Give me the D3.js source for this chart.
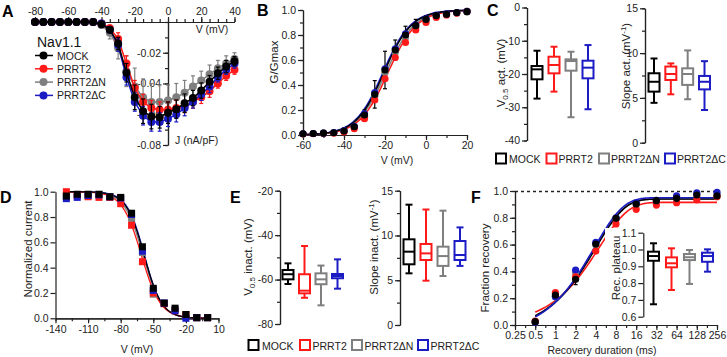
<!DOCTYPE html>
<html>
<head>
<meta charset="utf-8">
<script src="https://cdn.jsdelivr.net/npm/d3@7"></script>
<style>
  body { margin: 0; background: #fff; }
  svg { font-family: "Liberation Sans", Arial, sans-serif; }
  .axis path, .axis line { stroke: #222; stroke-width: 1.2; }
  .axis text { font-size: 10.5px; fill: #222; }
  .ttl { font-size: 10.5px; fill: #222; }
  .vttl { font-size: 11.5px; fill: #222; }
  .letter { font-size: 16px; font-weight: bold; fill: #000; }
</style>
</head>
<body>
<svg id="fig" width="727" height="357"></svg>
<script>
// groups and colours
const groups = ["MOCK", "PRRT2", "PRRT2ΔN", "PRRT2ΔC"];
const colors = ["#000000", "#ff1a1a", "#7f7f7f", "#1c1cc4"];
const drawOrder = [2, 1, 3, 0];

// A: current density vs voltage
const vA = [-80,-75,-70,-65,-60,-55,-50,-45,-40,-35,-30,-25,-20,-15,-10,-5,0,5,10,15,20,25,30,35,40];
const jMock = [0,0,0,0,0,0,0,0,-0.0015,-0.005,-0.014,-0.033,-0.049,-0.058,-0.0615,-0.062,-0.059,-0.0567,-0.0528,-0.0495,-0.0446,-0.0388,-0.0333,-0.029,-0.0255];
const jPrrt2 = [0,0,0,0,0,0,0,0,-0.001,-0.004,-0.011,-0.027,-0.043,-0.052,-0.056,-0.057,-0.057,-0.056,-0.055,-0.052,-0.049,-0.045,-0.040,-0.035,-0.031];
const jDN = [0,0,0,0,0,0,0,0,-0.002,-0.007,-0.017,-0.032,-0.042,-0.049,-0.052,-0.052,-0.051,-0.049,-0.046,-0.042,-0.038,-0.034,-0.030,-0.027,-0.024];
const jDC = [0,0,0,0,0,0,0,0,-0.001,-0.005,-0.015,-0.036,-0.052,-0.061,-0.065,-0.065,-0.063,-0.060,-0.056,-0.052,-0.047,-0.042,-0.036,-0.031,-0.027];
const jMockErr = [0,0,0,0,0,0,0,0,0.001,0.002,0.004,0.006,0.008,0.008,0.008,0.007,0.007,0.006,0.006,0.005,0.005,0.004,0.004,0.004,0.003];
const jPrrt2Err = [0,0,0,0,0,0,0,0,0.001,0.002,0.004,0.005,0.005,0.005,0.005,0.005,0.005,0.005,0.004,0.004,0.004,0.004,0.003,0.003,0.003];
const jDNErr = [0,0,0,0,0,0,0,0,0.002,0.004,0.007,0.010,0.012,0.012,0.012,0.011,0.010,0.009,0.008,0.007,0.006,0.006,0.005,0.005,0.004];
const jDCErr = [0,0,0,0,0,0,0,0,0.001,0.002,0.004,0.005,0.006,0.006,0.006,0.006,0.005,0.005,0.005,0.004,0.004,0.004,0.003,0.003,0.003];

// B: activation
const vB = [-60,-55,-50,-45,-40,-35,-30,-25,-20,-15,-10,-5,0,5,10,15,20];
const gMock = [0.01,0.012,0.015,0.018,0.032,0.066,0.16,0.325,0.52,0.68,0.80,0.875,0.925,0.955,0.966,0.98,0.987];
const gPrrt2 = [0.008,0.01,0.012,0.015,0.025,0.05,0.13,0.28,0.45,0.62,0.74,0.84,0.90,0.94,0.96,0.975,0.99];
const gDN = [0.01,0.012,0.015,0.02,0.03,0.06,0.15,0.31,0.50,0.66,0.78,0.86,0.92,0.95,0.965,0.975,0.985];
const gDC = [0.01,0.012,0.015,0.02,0.035,0.07,0.17,0.34,0.53,0.69,0.81,0.88,0.93,0.96,0.97,0.98,0.99];
const gMockErr = [0,0,0,0,0.005,0.015,0.04,0.11,0.15,0.08,0.07,0.05,0.03,0.02,0.015,0.01,0.01];
const actV05 = [-20.5, -18.5, -19.5, -21];
const actK = [6.8, 7.0, 7.0, 6.8];

// C: box stats [low whisker, q1, median, q3, high whisker]
const v05Act = [[-27.4,-21.6,-18.6,-17.6,-13], [-25.3,-19.8,-17.3,-14.8,-11.8], [-33,-19,-16.1,-15.6,-13.3], [-30.6,-21.3,-18.1,-16,-11.3]];
const slopeAct = [[4.45,5.7,6.8,7.75,9.4], [5.4,7.0,7.67,8.5,8.85], [4.85,6.45,7.67,8.3,10.3], [3.65,5.95,6.8,7.45,9.1]];

// D: steady-state inactivation
const vD = [-130,-120,-110,-100,-90,-80,-70,-60,-50,-40,-30,-20,-10,0];
const iMock = [0.966,0.98,0.98,0.98,0.96,0.955,0.83,0.565,0.237,0.12,0.08,0.03,0.005,0.005];
const iPrrt2 = [1.0,0.97,0.96,0.955,0.955,0.905,0.735,0.447,0.20,0.115,0.06,0.03,0.005,0.005];
const iDN = [0.96,0.965,0.97,0.975,0.96,0.95,0.79,0.52,0.19,0.12,0.07,0.03,0.005,0.005];
const iDC = [0.945,0.955,0.97,0.975,0.96,0.95,0.82,0.53,0.22,0.12,0.06,0.0,0.005,0.005];
const inactV05 = [-58.5, -61, -59.5, -58.2];
const inactK = [8.2, 8.8, 8.5, 8.0];

// E: box stats
const v05Inact = [[-62,-59.9,-57.6,-55.7,-52.7], [-68.2,-66.2,-65,-57.6,-44.9], [-71.6,-62.1,-59.9,-57.2,-53.7], [-64.1,-59.4,-58.4,-57.5,-50.9]];
const slopeInact = [[5.77,6.78,8.19,9.57,13.44], [4.95,7.26,8.0,9.05,12.9], [5.47,6.6,7.7,8.75,12.77], [6.6,7.26,7.82,9.38,10.9]];

// F: recovery from inactivation
const tF = [0.5,1,2,4,8,16,32,64,128,256];
const rMock = [0.025,0.224,0.341,0.604,0.796,0.903,0.928,0.945,0.97,0.963];
const rPrrt2 = [0.03,0.241,0.36,0.552,0.754,0.863,0.895,0.913,0.933,0.958];
const rDN = [0.02,0.21,0.39,0.60,0.79,0.90,0.93,0.95,0.97,0.97];
const rDC = [0.02,0.21,0.41,0.617,0.80,0.91,0.93,0.963,0.987,0.99];
const rMockErr = [0.01,0.02,0.04,0.02,0.02,0.01,0.01,0.01,0.01,0.01];
const recPlateau = [0.94, 0.915, 0.94, 0.95];
const recTau = [4.0, 4.5, 3.9, 3.8];
const recT0 = [0.2, 0, 0.2, 0.25];
const plateauBox = [[0.674,0.933,0.961,0.987,1.037], [0.759,0.894,0.918,0.953,1.007], [0.795,0.937,0.954,0.973,0.997], [0.868,0.927,0.961,0.981,1.001]];

// tick values
const ticksAx = [-80,-60,-40,-20,0,20,40];
const ticksAy = [-0.08,-0.06,-0.04,-0.02];
const ticksBx = [-60,-40,-20,0,20];
const ticks01 = [0,0.2,0.4,0.6,0.8,1.0];
const ticksV05Act = [-40,-30,-20,-10,0];
const ticksSlope = [0,5,10,15];
const ticksDx = [-140,-110,-80,-50,-20,10];
const ticksV05Inact = [-80,-60,-40,-20];
const ticksFx = [0.25,0.5,1,2,4,8,16,32,64,128,256];
const ticksPlateau = [0.6,0.7,0.8,0.9,1.0,1.1];

const svg = d3.select("#fig");

function axisPair(orient, scale, major, minor, fmt, tx, ty) {
  const mk = { left: d3.axisLeft, bottom: d3.axisBottom, top: d3.axisTop }[orient];
  if (minor) {
    svg.append("g").attr("class", "axis").attr("transform", `translate(${tx},${ty})`)
      .call(mk(scale).tickValues(minor).tickSize(3).tickSizeOuter(0).tickFormat(""));
  }
  svg.append("g").attr("class", "axis").attr("transform", `translate(${tx},${ty})`)
    .call(mk(scale).tickValues(major).tickSize(5).tickSizeOuter(0).tickPadding(2).tickFormat(fmt));
}

function vTitle(x, y, parts) {
  // rotated title; parts = [[text, kind]] kind: "", "sub", "sup"
  const t = svg.append("text").attr("class", "vttl")
    .attr("transform", `translate(${x},${y}) rotate(-90)`).attr("text-anchor", "middle");
  let shift = 0;
  parts.forEach(([txt, kind]) => {
    const want = kind === "sub" ? 3 : kind === "sup" ? -4 : 0;
    t.append("tspan").attr("dy", want - shift)
      .style("font-size", kind ? "8px" : null).text(txt);
    shift = want;
  });
  return t;
}

function letter(x, y, s) {
  svg.append("text").attr("class", "letter").attr("x", x).attr("y", y).text(s);
}

function errBars(g, xs, vals, errs, x, y, color, cap) {
  xs.forEach((xv, i) => {
    if (!errs[i]) return;
    const px = x(xv), y0 = y(vals[i] - errs[i]), y1 = y(vals[i] + errs[i]);
    g.append("line").attr("x1", px).attr("x2", px).attr("y1", y0).attr("y2", y1);
    g.append("line").attr("x1", px - cap).attr("x2", px + cap).attr("y1", y0).attr("y2", y0);
    g.append("line").attr("x1", px - cap).attr("x2", px + cap).attr("y1", y1).attr("y2", y1);
  });
  g.attr("stroke", color).attr("stroke-width", 1.2);
}

function boxes(yScale, x0, x1, stats) {
  const xs = d3.scalePoint().domain(groups).range([x0, x1]);
  stats.forEach((s, i) => {
    const [lo, q1, med, q3, hi] = s;
    const cx = xs(groups[i]), hw = 5.5, cw = 3.5;
    const g = svg.append("g").attr("stroke", colors[i]).attr("stroke-width", 2).attr("fill", "none");
    g.append("line").attr("x1", cx).attr("x2", cx).attr("y1", yScale(hi)).attr("y2", yScale(q3));
    g.append("line").attr("x1", cx).attr("x2", cx).attr("y1", yScale(q1)).attr("y2", yScale(lo));
    g.append("line").attr("x1", cx - cw).attr("x2", cx + cw).attr("y1", yScale(hi)).attr("y2", yScale(hi));
    g.append("line").attr("x1", cx - cw).attr("x2", cx + cw).attr("y1", yScale(lo)).attr("y2", yScale(lo));
    g.append("rect").attr("x", cx - hw).attr("width", hw * 2)
      .attr("y", yScale(q3)).attr("height", yScale(q1) - yScale(q3));
    g.append("line").attr("x1", cx - hw).attr("x2", cx + hw).attr("y1", yScale(med)).attr("y2", yScale(med));
  });
}

function boxLegend(y, squares, texts) {
  groups.forEach((name, i) => {
    svg.append("rect").attr("x", squares[i]).attr("y", y - 5).attr("width", 10).attr("height", 10)
      .attr("fill", "none").attr("stroke", colors[i]).attr("stroke-width", 2);
    svg.append("text").attr("class", "ttl").style("font-size", "10.5px")
      .attr("x", texts[i]).attr("y", y + 4.5).text(name);
  });
}

const hy = d => String(d);

// ---------- Panel A ----------
const xA = d3.scaleLinear().domain([-80, 40]).range([35, 234.5]);
const yA = d3.scaleLinear().domain([-0.08, 0]).range([145, 22]);
axisPair("top", xA, ticksAx, d3.range(-80, 41, 5), hy, 0, 22);
axisPair("left", yA, ticksAy, d3.range(-0.08, 0.001, 0.01), d => d.toFixed(2), xA(0), 0);
svg.append("text").attr("class", "ttl").attr("x", 212).attr("y", 33).attr("text-anchor", "middle").text("V (mV)");
svg.append("text").attr("class", "ttl").attr("x", 175).attr("y", 144).text("J (nA/pF)");

const jSeries = [jMock, jPrrt2, jDN, jDC];
const jErr = [jMockErr, jPrrt2Err, jDNErr, jDCErr];
drawOrder.forEach(i => {
  errBars(svg.append("g"), vA, jSeries[i], jErr[i], xA, yA, colors[i], 2);
  svg.append("path").datum(jSeries[i])
    .attr("d", d3.line().x((d, k) => xA(vA[k])).y(d => yA(d)))
    .attr("fill", "none").attr("stroke", colors[i]).attr("stroke-width", 1.5);
  svg.append("g").selectAll("circle").data(jSeries[i]).join("circle")
    .attr("cx", (d, k) => xA(vA[k])).attr("cy", d => yA(d)).attr("r", 4).attr("fill", colors[i]);
});

// legend A
svg.append("text").attr("x", 37).attr("y", 47).style("font-size", "14px").attr("fill", "#111").text("Nav1.1");
groups.forEach((name, i) => {
  const y = 55.5 + i * 13.3;
  svg.append("line").attr("x1", 35).attr("x2", 53).attr("y1", y).attr("y2", y)
    .attr("stroke", colors[i]).attr("stroke-width", 1.5);
  svg.append("circle").attr("cx", 43.5).attr("cy", y).attr("r", 4).attr("fill", colors[i]);
  svg.append("text").attr("class", "ttl").style("font-size", "10.5px").attr("x", 57).attr("y", y + 4).text(name);
});
letter(2, 17, "A");

// ---------- Panel B ----------
const xB = d3.scaleLinear().domain([-60, 20]).range([303, 467]);
const yB = d3.scaleLinear().domain([0, 1]).range([135, 10]);
axisPair("bottom", xB, ticksBx, d3.range(-60, 21, 10), hy, 0, 135);
axisPair("left", yB, ticks01, d3.range(0, 1.01, 0.1), d => d.toFixed(1), 303, 0);
svg.append("text").attr("class", "ttl").attr("x", 397).attr("y", 164).attr("text-anchor", "middle").text("V (mV)");
vTitle(278, 62, [["G/Gmax", ""]]);
const gSeries = [gMock, gPrrt2, gDN, gDC];
const vFitB = d3.range(-60, 20.01, 0.5);
drawOrder.forEach(i => {
  svg.append("path").datum(vFitB)
    .attr("d", d3.line().x(v => xB(v)).y(v => yB(1 / (1 + Math.exp((actV05[i] - v) / actK[i])))))
    .attr("fill", "none").attr("stroke", colors[i]).attr("stroke-width", 1.5);
});
errBars(svg.append("g"), vB, gMock, gMockErr, xB, yB, "#000", 2);
drawOrder.forEach(i => {
  svg.append("g").selectAll("circle").data(gSeries[i]).join("circle")
    .attr("cx", (d, k) => xB(vB[k])).attr("cy", d => yB(d)).attr("r", 3.6).attr("fill", colors[i]);
});
letter(257, 16, "B");

// ---------- Panel C ----------
const yC1 = d3.scaleLinear().domain([-40, 0]).range([140.5, 7.5]);
axisPair("left", yC1, ticksV05Act, d3.range(-40, 1, 5), hy, 527, 0);
boxes(yC1, 537, 588, v05Act);
vTitle(505, 73, [["V", ""], ["0.5", "sub"], [" act. (mV)", ""]]);
const yC2 = d3.scaleLinear().domain([0, 15]).range([142.7, 8.3]);
axisPair("left", yC2, ticksSlope, d3.range(0, 15.1, 2.5), hy, 645, 0);
boxes(yC2, 654, 704.5, slopeAct);
vTitle(630, 66, [["Slope act. (mV", ""], ["-1", "sup"], [")", ""]]);
boxLegend(158.5, [496, 546.5, 599, 665], [509, 558.5, 611, 677]);
letter(487, 16, "C");

// ---------- Panel D ----------
const xD = d3.scaleLinear().domain([-140, 10]).range([55.5, 218.5]);
const yD = d3.scaleLinear().domain([0, 1]).range([318.3, 191.7]);
axisPair("bottom", xD, ticksDx, d3.range(-140, 11, 15), hy, 0, 318.3);
axisPair("left", yD, ticks01, null, d => d.toFixed(1), 55.5, 0);
svg.append("text").attr("class", "ttl").attr("x", 137).attr("y", 353).attr("text-anchor", "middle").text("V (mV)");
vTitle(32, 249, [["Normalized current", ""]]);
const iSeries = [iMock, iPrrt2, iDN, iDC];
const vFitD = d3.range(-130, 0.01, 0.5);
[2, 3, 1, 0].forEach(i => {
  svg.append("path").datum(vFitD)
    .attr("d", d3.line().x(v => xD(v)).y(v => yD(1 / (1 + Math.exp((v - inactV05[i]) / inactK[i])))))
    .attr("fill", "none").attr("stroke", colors[i]).attr("stroke-width", 1.3);
});
drawOrder.forEach(i => {
  svg.append("g").selectAll("rect").data(iSeries[i]).join("rect")
    .attr("x", (d, k) => xD(vD[k]) - 3.5).attr("y", d => yD(d) - 3.5)
    .attr("width", 7).attr("height", 7).attr("fill", colors[i]);
});
letter(0, 203, "D");

// ---------- Panel E ----------
const yE1 = d3.scaleLinear().domain([-80, -20]).range([324, 190.7]);
axisPair("left", yE1, ticksV05Inact, d3.range(-80, -19, 10), hy, 280, 0);
boxes(yE1, 288, 337.5, v05Inact);
vTitle(252, 257, [["V", ""], ["0.5", "sub"], [" inact. (mV)", ""]]);
const yE2 = d3.scaleLinear().domain([0, 15]).range([325, 190.7]);
axisPair("left", yE2, ticksSlope, d3.range(0, 15.1, 2.5), hy, 400, 0);
boxes(yE2, 409, 460, slopeInact);
vTitle(378, 247, [["Slope inact. (mV", ""], ["-1", "sup"], [")", ""]]);
boxLegend(345, [248.5, 300, 352, 418], [262, 312.5, 364.5, 430.5]);
letter(230, 203, "E");

// ---------- Panel F ----------
const xF = d3.scaleLog().base(2).domain([0.25, 256]).range([515, 717]);
const yF = d3.scaleLinear().domain([0, 1]).range([325, 191]);
axisPair("bottom", xF, ticksFx, d3.range(-2, 8.01, 0.5).map(p => Math.pow(2, p)), hy, 0, 325);
axisPair("left", yF, ticks01, d3.range(0, 1.01, 0.1), d => d.toFixed(1), 515, 0);
svg.append("line").attr("x1", 515).attr("x2", 717).attr("y1", yF(1) + 0.5).attr("y2", yF(1) + 0.5)
  .attr("stroke", "#222").attr("stroke-width", 1.3).attr("stroke-dasharray", "3,3");
svg.append("text").attr("class", "ttl").attr("x", 602).attr("y", 354).attr("text-anchor", "middle").text("Recovery duration (ms)");
vTitle(489, 268, [["Fraction recovery", ""]]);
const rSeries = [rMock, rPrrt2, rDN, rDC];
const tFit = d3.range(-1, 8.001, 0.05).map(p => Math.pow(2, p));
[1, 2, 0, 3].forEach(i => {
  svg.append("path").datum(tFit)
    .attr("d", d3.line().x(t => xF(t)).y(t => yF(recPlateau[i] * (1 - Math.exp(-(t - recT0[i]) / recTau[i])))))
    .attr("fill", "none").attr("stroke", colors[i]).attr("stroke-width", 1.6);
});
errBars(svg.append("g"), tF, rMock, rMockErr, xF, yF, "#000", 2);
[2, 3, 1, 0].forEach(i => {
  svg.append("g").selectAll("circle").data(rSeries[i]).join("circle")
    .attr("cx", (d, k) => xF(tF[k])).attr("cy", d => yF(d)).attr("r", 3.6).attr("fill", colors[i]);
});
// inset
const yFi = d3.scaleLinear().domain([0.6, 1.1]).range([316.7, 232.7]);
svg.append("rect").attr("x", 605).attr("y", 228).attr("width", 112).attr("height", 92).attr("fill", "#fff");
axisPair("left", yFi, ticksPlateau, null, d => d.toFixed(1), 643.3, 0);
boxes(yFi, 653.5, 707.5, plateauBox);
vTitle(620, 268, [["Rec. plateau", ""]]);
letter(471, 203, "F");
</script>
</body>
</html>
